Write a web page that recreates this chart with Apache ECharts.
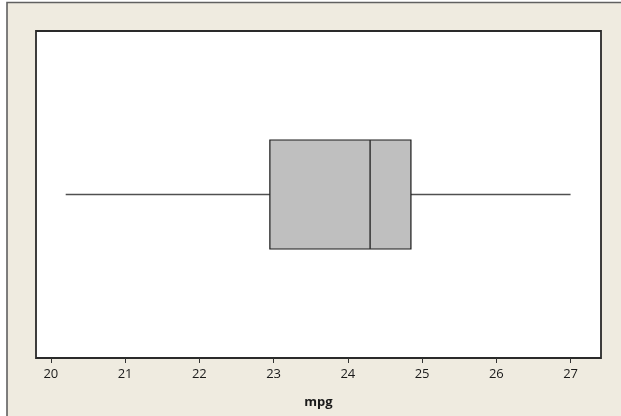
<!DOCTYPE html>
<html>
<head>
<meta charset="utf-8">
<script src="https://cdn.jsdelivr.net/npm/echarts@6/dist/echarts.min.js"></script>
<style>
  html, body { margin: 0; padding: 0; background: #ffffff; }
  #chart { width: 621px; height: 416px; }
</style>
</head>
<body>
<div id="chart"></div>
<script>
// Boxplot of fuel economy (mpg)
const categories = ['mpg'];
// [min, Q1, median, Q3, max]
const boxStats = [[20.2, 22.95, 24.3, 24.85, 27.0]];
const tickValues = [20, 21, 22, 23, 24, 25, 26, 27];
const axisTitle = 'mpg';

const chart = echarts.init(document.getElementById('chart'), null, { renderer: 'canvas' });

const seriesData = boxStats.map((s, i) => [i].concat(s));

function renderBox(params, api) {
  const cat = api.value(0);
  const lo = api.value(1), q1 = api.value(2), med = api.value(3), q3 = api.value(4), hi = api.value(5);
  const band = api.size([0, 1])[1];
  const half = band / 6;
  const pLo = api.coord([lo, cat]);
  const pQ1 = api.coord([q1, cat]);
  const pMed = api.coord([med, cat]);
  const pQ3 = api.coord([q3, cat]);
  const pHi = api.coord([hi, cat]);
  const yc = pQ1[1];
  return {
    type: 'group',
    children: [
      { type: 'line', shape: { x1: pLo[0], y1: yc, x2: pQ1[0], y2: yc },
        style: { stroke: '#505050', lineWidth: 1.5 } },
      { type: 'line', shape: { x1: pQ3[0], y1: yc, x2: pHi[0], y2: yc },
        style: { stroke: '#505050', lineWidth: 1.5 } },
      { type: 'rect', shape: { x: pQ1[0], y: yc - half, width: pQ3[0] - pQ1[0], height: half * 2 },
        style: { fill: '#bfbfbf', stroke: '#1a1a1a', lineWidth: 1.2 } },
      { type: 'line', shape: { x1: pMed[0], y1: yc - half, x2: pMed[0], y2: yc + half },
        style: { stroke: '#333333', lineWidth: 1.5 } }
    ]
  };
}

chart.setOption({
  backgroundColor: '#ffffff',
  animation: false,
  graphic: [{
    type: 'rect',
    z: -10,
    shape: { x: 7, y: 2.5, width: 700, height: 500 },
    style: { fill: '#efebe0', stroke: '#606060', lineWidth: 1.6 }
  }],
  grid: {
    left: 36, right: 20, top: 31, bottom: 58,
    show: true,
    backgroundColor: '#ffffff',
    borderColor: '#2a2a2a',
    borderWidth: 1.8
  },
  xAxis: {
    type: 'value',
    min: 19.8,
    max: 27.41,
    interval: 1,
    name: axisTitle,
    nameLocation: 'middle',
    nameGap: 38,
    nameTextStyle: { fontFamily: 'Open Sans', fontWeight: 'bold', fontSize: 13, color: '#1a1a1a' },
    axisLine: { show: false },
    splitLine: { show: false },
    axisTick: {
      show: true, length: 5, inside: false,
      customValues: tickValues,
      lineStyle: { color: '#333333', width: 1 }
    },
    axisLabel: {
      customValues: tickValues,
      fontFamily: 'Open Sans', fontSize: 13, color: '#1a1a1a', margin: 10,
      showMinLabel: true, showMaxLabel: true
    }
  },
  yAxis: {
    type: 'category',
    data: categories,
    show: false,
    boundaryGap: true
  },
  series: [{
    type: 'custom',
    renderItem: renderBox,
    encode: { x: [1, 2, 3, 4, 5], y: 0 },
    data: seriesData
  }]
});
</script>
</body>
</html>
